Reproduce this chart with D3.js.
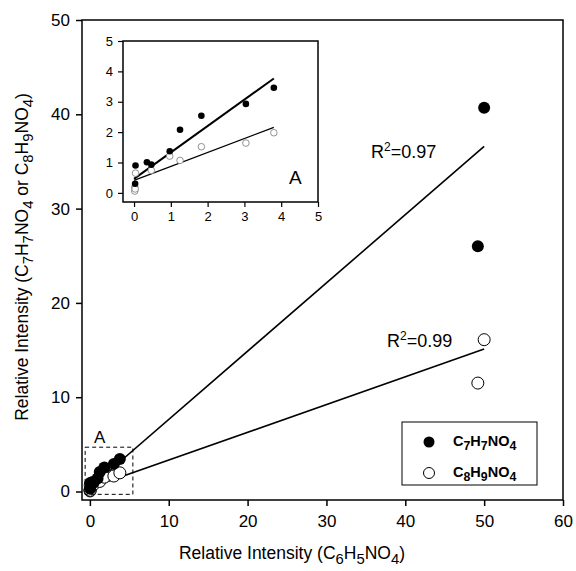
<!doctype html>
<html>
<head>
<meta charset="UTF-8">
<script src="https://d3js.org/d3.v7.min.js"></script>
<style>
  body { margin: 0; background: #fff; }
  text { font-family: "Liberation Sans", Arial, sans-serif; fill: #000; }
</style>
</head>
<body>
<script>
// C7H7NO4 (filled) and C8H9NO4 (open) vs C6H5NO4
var c7x = [0.03, 0.04, 0.35, 0.47, 0.97, 1.25, 1.83, 3.04, 3.80, 49.2, 50.0];
var c7y = [0.30, 0.90, 1.01, 0.93, 1.37, 2.08, 2.54, 2.93, 3.46, 26.0, 40.7];
var c8x = [0.02, 0.02, 0.03, 0.04, 0.47, 0.97, 1.25, 1.83, 3.04, 3.80, 49.2, 50.0];
var c8y = [0.06, 0.19, 0.13, 0.65, 0.74, 1.21, 1.07, 1.52, 1.64, 1.98, 11.5, 16.1];

// fitted lines [intercept, slope, xmax]
var fitMain7 = [0.4, 0.724, 50];
var fitMain8 = [0.4, 0.294, 50];
var fitInset7 = [0.46, 0.87, 3.8];
var fitInset8 = [0.41, 0.46, 3.8];

var mainTicks = [0, 10, 20, 30, 40, 50, 60];
var mainYTicks = [0, 10, 20, 30, 40, 50];
var insetTicks = [0, 1, 2, 3, 4, 5];

var svg = d3.select("body").append("svg").attr("width", 576).attr("height", 571);

var x = d3.scaleLinear().domain([-1, 60]).range([82, 563]);
var y = d3.scaleLinear().domain([-0.9, 50]).range([500, 20]);

function pts(xs, ys) { return xs.map(function(v, i) { return [v, ys[i]]; }); }

// text with digit subscripts; "_" marks a subscript run
function subText(t, str, size) {
  var down = false;
  str.split(/(_\d+)/).forEach(function(s) {
    if (s === "") return;
    var sp = t.append("tspan");
    if (s[0] === "_") {
      sp.text(s.slice(1)).attr("font-size", size * 0.85);
      if (!down) { sp.attr("dy", size * 0.3); down = true; }
    } else {
      sp.text(s);
      if (down) { sp.attr("dy", -size * 0.3); down = false; }
    }
  });
  return t;
}

// frame
svg.append("rect").attr("x", 82).attr("y", 20).attr("width", 481).attr("height", 480)
  .attr("fill", "none").attr("stroke", "#000").attr("stroke-width", 1.5);

var xAxis = svg.append("g").attr("transform", "translate(0,500)")
  .call(d3.axisBottom(x).tickValues(mainTicks).tickSize(6).tickSizeOuter(0).tickPadding(9));
var yAxis = svg.append("g").attr("transform", "translate(82,0)")
  .call(d3.axisLeft(y).tickValues(mainYTicks).tickSize(6).tickSizeOuter(0).tickPadding(6));
[xAxis, yAxis].forEach(function(a) {
  a.select(".domain").remove();
  a.selectAll("line").attr("stroke", "#000").attr("stroke-width", 1.5);
  a.selectAll("text").attr("font-size", 17).attr("font-family", "Liberation Sans, Arial, sans-serif");
});

function fitLine(g, sx, sy, f, w) {
  g.append("line")
    .attr("x1", sx(0)).attr("y1", sy(f[0]))
    .attr("x2", sx(f[2])).attr("y2", sy(f[0] + f[1] * f[2]))
    .attr("stroke", "#000").attr("stroke-width", w);
}
fitLine(svg, x, y, fitMain7, 1.6);
fitLine(svg, x, y, fitMain8, 1.6);

svg.append("g").selectAll("circle").data(pts(c8x, c8y)).enter().append("circle")
  .attr("cx", function(d) { return x(d[0]); }).attr("cy", function(d) { return y(d[1]); })
  .attr("r", 6).attr("fill", "#fff").attr("stroke", "#000").attr("stroke-width", 1);
svg.append("g").selectAll("circle").data(pts(c7x, c7y)).enter().append("circle")
  .attr("cx", function(d) { return x(d[0]); }).attr("cy", function(d) { return y(d[1]); })
  .attr("r", 6).attr("fill", "#000");

// dashed box A
svg.append("rect").attr("x", x(-0.6)).attr("y", y(4.7))
  .attr("width", x(5.45) - x(-0.6)).attr("height", y(-0.3) - y(4.7))
  .attr("fill", "none").attr("stroke", "#000").attr("stroke-width", 1).attr("stroke-dasharray", "4,3");
svg.append("text").attr("x", 94).attr("y", 443).attr("font-size", 17).text("A");

// R2 labels
function r2(tx, ty, val) {
  var t = svg.append("text").attr("x", tx).attr("y", ty).attr("font-size", 18);
  t.append("tspan").text("R");
  t.append("tspan").attr("dy", -7).attr("font-size", 12).text("2");
  t.append("tspan").attr("dy", 7).text("=" + val);
}
r2(371, 158, "0.97");
r2(387, 347, "0.99");

// legend
svg.append("rect").attr("x", 402).attr("y", 422).attr("width", 135).attr("height", 63)
  .attr("fill", "#fff").attr("stroke", "#000").attr("stroke-width", 1);
svg.append("circle").attr("cx", 429).attr("cy", 442).attr("r", 5.5).attr("fill", "#000");
svg.append("circle").attr("cx", 429).attr("cy", 473).attr("r", 5.5).attr("fill", "#fff")
  .attr("stroke", "#000").attr("stroke-width", 1);
subText(svg.append("text").attr("x", 453).attr("y", 446).attr("font-size", 14.5).attr("font-weight", "bold"),
  "C_7H_7NO_4", 14.5);
subText(svg.append("text").attr("x", 453).attr("y", 477).attr("font-size", 14.5).attr("font-weight", "bold"),
  "C_8H_9NO_4", 14.5);

// axis titles
subText(svg.append("text").attr("x", 292).attr("y", 559).attr("font-size", 17.5).attr("text-anchor", "middle"),
  "Relative Intensity (C_6H_5NO_4)", 17.5);
subText(svg.append("text").attr("transform", "translate(28,257) rotate(-90)")
  .attr("font-size", 17.5).attr("text-anchor", "middle"),
  "Relative Intensity (C_7H_7NO_4 or C_8H_9NO_4)", 17.5);

// inset
var ix = d3.scaleLinear().domain([-0.3, 5]).range([123, 318]);
var iy = d3.scaleLinear().domain([-0.3, 5]).range([202, 41]);
var ins = svg.append("g");
ins.append("rect").attr("x", 123).attr("y", 41).attr("width", 195).attr("height", 161)
  .attr("fill", "#fff").attr("stroke", "#000").attr("stroke-width", 1.5);
var ixa = ins.append("g").attr("transform", "translate(0,202)")
  .call(d3.axisBottom(ix).tickValues(insetTicks).tickFormat(d3.format("d")).tickSize(5).tickSizeOuter(0).tickPadding(5));
var iya = ins.append("g").attr("transform", "translate(123,0)")
  .call(d3.axisLeft(iy).tickValues(insetTicks).tickFormat(d3.format("d")).tickSize(5).tickSizeOuter(0).tickPadding(5));
[ixa, iya].forEach(function(a) {
  a.select(".domain").remove();
  a.selectAll("line").attr("stroke", "#000").attr("stroke-width", 1.2);
  a.selectAll("text").attr("font-size", 13).attr("font-family", "Liberation Sans, Arial, sans-serif");
});
fitLine(ins, ix, iy, fitInset7, 2);
fitLine(ins, ix, iy, fitInset8, 1.3);
ins.append("g").selectAll("circle").data(pts(c8x, c8y).filter(function(d) { return d[0] <= 5; }))
  .enter().append("circle")
  .attr("cx", function(d) { return ix(d[0]); }).attr("cy", function(d) { return iy(d[1]); })
  .attr("r", 3.3).attr("fill", "#fff").attr("stroke", "#777").attr("stroke-width", 0.8);
ins.append("g").selectAll("circle").data(pts(c7x, c7y).filter(function(d) { return d[0] <= 5; }))
  .enter().append("circle")
  .attr("cx", function(d) { return ix(d[0]); }).attr("cy", function(d) { return iy(d[1]); })
  .attr("r", 3.3).attr("fill", "#000");
ins.append("text").attr("x", 289).attr("y", 184).attr("font-size", 19).text("A");
</script>
</body>
</html>
